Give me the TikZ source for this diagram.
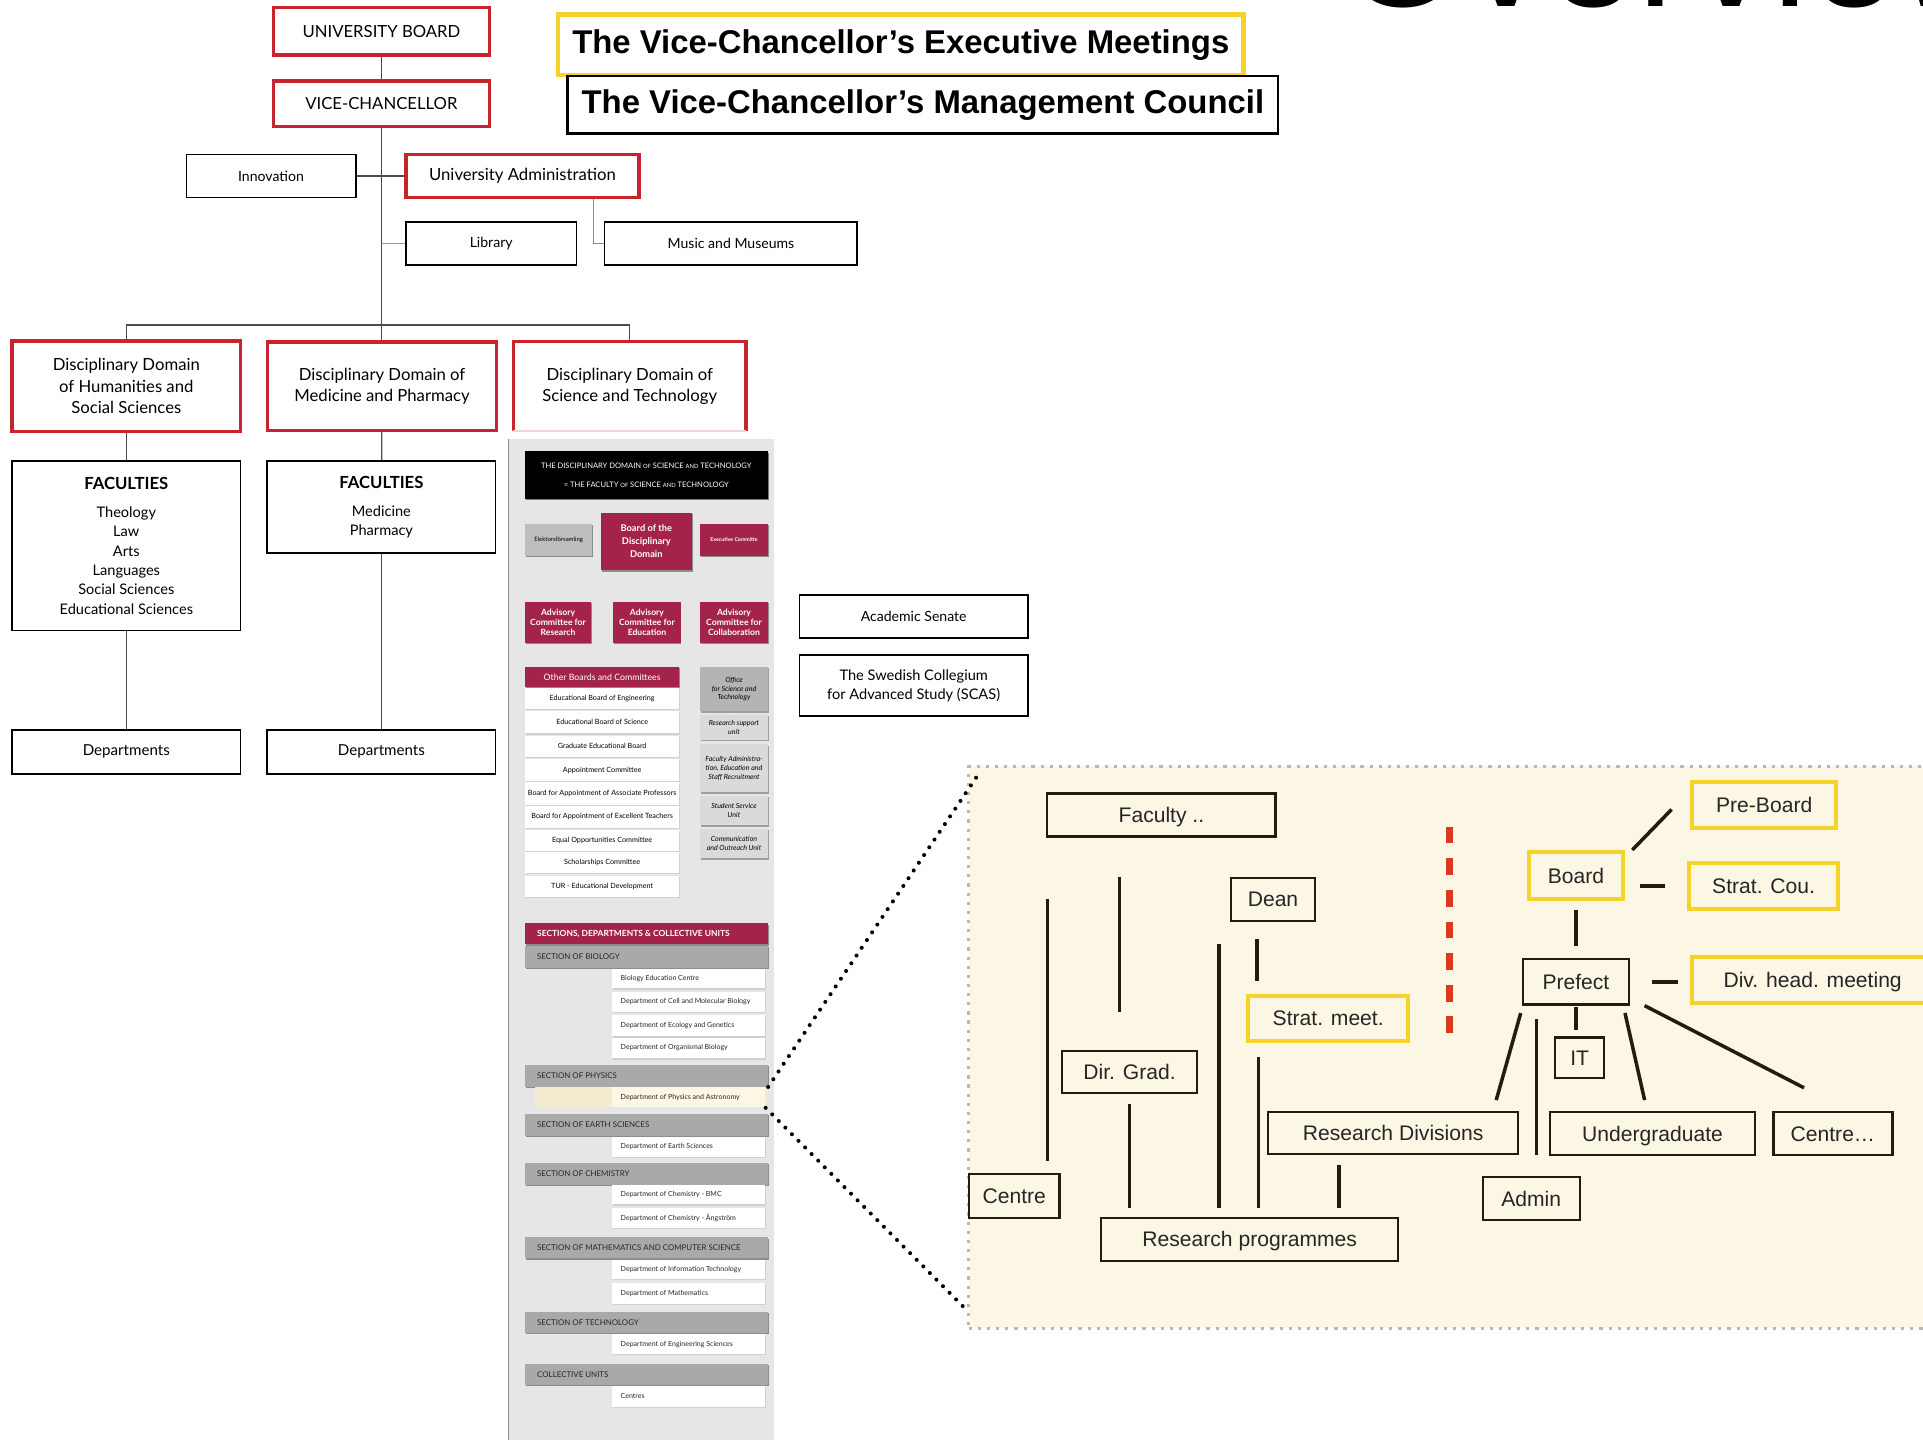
\documentclass[tikz,border=0pt]{standalone}
\usepackage{fontspec}
\setmainfont{Lato}
\newfontfamily\helv{Liberation Sans}
\usepackage{tikz}
\usetikzlibrary{shadows}
\definecolor{uured}{HTML}{C8232F}
\definecolor{uucrimson}{HTML}{A3234A}
\definecolor{panelgray}{HTML}{E6E6E6}
\definecolor{secgray}{HTML}{A9A9A9}
\definecolor{unitgray}{HTML}{DADADA}
\definecolor{officegray}{HTML}{B4B4B4}
\definecolor{elekgray}{HTML}{BDBDBD}
\definecolor{zoombeige}{HTML}{FCF6E4}
\definecolor{hlyellow}{HTML}{F6D32B}
\definecolor{dashred}{HTML}{DA3A1F}
\definecolor{physhl}{HTML}{F3EBCF}
\definecolor{zink}{HTML}{221C10}
\tikzset{
  corners/.style args = {#1/#2/#3/#4}{at={({(#1+#3)/2},{(#2+#4)/2})}, anchor=center,
                      minimum width={(#3-#1)*0.24528mm}, minimum height={(#4-#2)*0.24528mm},
                      inner sep=0pt},
  orgline/.style   = {draw=black!70, line width=0.7pt},
  redbox/.style    = {draw=uured, line width=2pt, fill=white, align=center,
                      font=\fontsize{9.5}{12.2}\selectfont},
  plainbox/.style  = {draw=black, line width=1pt, fill=white, align=center,
                      font=\fontsize{8}{10.6}\selectfont},
  titlebox/.style  = {fill=white, font=\helv\bfseries\fontsize{18.7}{20}\selectfont},
  softshadow/.style = {drop shadow={shadow xshift=0.45pt, shadow yshift=-0.7pt,
                      fill=black!#1, opacity=0.7}},
  crimbox/.style   = {fill=uucrimson, text=white, align=center, softshadow=60,
                      font=\bfseries\fontsize{4.9}{5.8}\selectfont},
  unitbox/.style   = {fill=unitgray, align=center, softshadow=50,
                      font=\itshape\fontsize{4}{5}\selectfont},
  boardrow/.style  = {fill=white, softshadow=22, font=\fontsize{4.1}{5}\selectfont},
  secbar/.style    = {fill=secgray, softshadow=60},
  secfont/.style   = {font=\fontsize{4.5}{5}\selectfont, text=black!85, inner sep=0pt},
  deptrow/.style   = {fill=white, softshadow=22},
  deptfont/.style  = {font=\fontsize{4}{5}\selectfont, text=black!85, inner sep=0pt},
  zbox/.style      = {draw=zink, line width=1.3pt, text=black!85, text depth=0pt,
                      font=\helv\fontsize{12}{14}\selectfont},
  zyellow/.style   = {zbox, draw=hlyellow, line width=2.3pt},
  zline/.style     = {draw=zink, line width=2pt},
  dotconn/.style   = {draw=black, line width=2.3pt, line cap=round,
                      dash pattern=on 0pt off 5.3pt},
}
\newcommand{\smcap}[1]{{\fontsize{3.3}{4}\selectfont #1}}
\newcommand{\boardline}[4]{%
  \node[boardrow, corners=428/#2/554/#3] (#1) {#4};}
\newcommand{\secbar}[4]{%
  \node[secbar, corners=428/#2/626/#3,
        label={[secfont, anchor=west, xshift=7pt]west:{#4}}] (#1) {};}
\newcommand{\deptline}[4]{%
  \node[deptrow, corners=499/#2/624/#3,
        label={[deptfont, anchor=west, xshift=5pt]west:{#4}}] (#1) {};}

\begin{document}
\begin{tikzpicture}[x=0.024528cm, y=-0.024528cm]
  \useasboundingbox (0,0) rectangle (1568,1174);
  \clip (0,0) rectangle (1568,1174);

  % headline, cut by the top edge
  \node[anchor=base west, inner sep=0pt, font=\helv\fontsize{92}{92}\selectfont]
    (overview) at (1093,5.5) {Overview};

  % university level
  \node[redbox, corners=223/6/399/45] (ub) {UNIVERSITY BOARD};
  \node[redbox, corners=223/66/399/103] (vc) {VICE-CHANCELLOR};
  \node[plainbox, corners=152/126/290/161] (inno) {Innovation};
  \node[redbox, corners=331/126/521/161] (uadm) {University Administration};
  \node[plainbox, corners=331/181/470/216] (lib) {Library};
  \node[plainbox, corners=493/181/699/216] (mm) {Music and Museums};
  \coordinate (mmtap) at (484,0);
  \coordinate (bus) at (0,265);
  \draw[orgline] (ub) -- (vc);
  \draw[orgline] (inno) -- (uadm);
  \draw[orgline, black!40] (lib.west) -- (lib.west -| vc.south);
  \draw[orgline, black!45] (uadm.south -| mmtap) |- (mm.west);

  \node[titlebox, draw=hlyellow, line width=2.6pt, corners=455/12/1014/61] (vcem)
    {The Vice-Chancellor’s Executive Meetings};
  \node[titlebox, draw=black, line width=1.6pt, corners=463/62/1042/109] (vcmc)
    {The Vice-Chancellor’s Management Council};

  % disciplinary domains
  \node[redbox, corners=10/278/196/352] (dhum)
    {Disciplinary Domain\\of Humanities and\\Social Sciences};
  \node[redbox, corners=218/279/405/351] (dmed)
    {Disciplinary Domain of\\Medicine and Pharmacy};
  \node[redbox, draw=none, corners=420/280/607/350] (dsci)
    {Disciplinary Domain of\\Science and Technology};
  \draw[uured, line width=2pt] (dsci.south west) -- (dsci.north west)
    -- (dsci.north east) -- (dsci.south east);
  \draw[uured!20, line width=1pt] (dsci.south west) -- (dsci.south east);
  \draw[orgline] (vc.south) -- (vc.south |- dmed.north);
  \draw[orgline] (dhum.north) -- (dhum.north |- bus) -- (dsci.north |- bus) -- (dsci.north);

  \node[plainbox, corners=10/376/196/514, font=\fontsize{8.3}{11}\selectfont] (fac1)
    {{\bfseries\fontsize{9.5}{11}\selectfont FACULTIES}\\[5pt]
     Theology\\Law\\Arts\\Languages\\Social Sciences\\Educational Sciences};
  \node[plainbox, corners=218/376/404/451, font=\fontsize{8.3}{11}\selectfont] (fac2)
    {{\bfseries\fontsize{9.5}{11}\selectfont FACULTIES}\\[5pt]
     Medicine\\Pharmacy};
  \node[plainbox, corners=10/595/196/631, font=\fontsize{8.6}{10}\selectfont] (dep1) {Departments};
  \node[plainbox, corners=218/595/404/631, font=\fontsize{8.6}{10}\selectfont] (dep2) {Departments};
  \draw[orgline] (dhum) -- (fac1);
  \draw[orgline] (fac1) -- (dep1);
  \draw[orgline] (dmed) -- (fac2);
  \draw[orgline] (fac2) -- (dep2);

  \node[plainbox, corners=652/485/838/520] (asen) {Academic Senate};
  \node[plainbox, corners=652/534/838/584, font=\fontsize{8.3}{10.8}\selectfont] (scas)
    {The Swedish Collegium\\for Advanced Study (SCAS)};

  % science and technology panel
  \node[fill=panelgray, corners=415/358/631/1174] (panel) {};
  \draw[black!45, line width=0.8pt] (panel.north west) -- (panel.south west);
  \node[fill=black, text=white, align=center, softshadow=70, corners=428/368/626/407,
        font=\fontsize{4.3}{10.5}\selectfont] (dsthead)
    {THE DISCIPLINARY DOMAIN \smcap{OF} SCIENCE \smcap{AND} TECHNOLOGY\\
     = THE FACULTY \smcap{OF} SCIENCE \smcap{AND} TECHNOLOGY};
  \node[fill=elekgray, softshadow=60, corners=428/427/483/453,
        font=\fontsize{3.4}{4}\selectfont] (elek) {Elektorsförsamling};
  \node[crimbox, corners=490/418/564/465, font=\bfseries\fontsize{5.3}{7.4}\selectfont] (bdd)
    {Board of the\\Disciplinary\\Domain};
  \node[crimbox, corners=571/427/626/453, font=\bfseries\fontsize{3}{4}\selectfont] (excom)
    {Executive Committe};
  \node[crimbox, corners=428/491/482/524] (acr) {Advisory\\Committee for\\Research};
  \node[crimbox, corners=500/491/555/524] (ace) {Advisory\\Committee for\\Education};
  \node[crimbox, corners=571/491/626/524] (acc) {Advisory\\Committee for\\Collaboration};

  \node[crimbox, corners=428/544/554/560, font=\fontsize{5}{6}\selectfont] (obc)
    {Other Boards and Committees};
  \boardline{ebe}{561}{578}{Educational Board of Engineering}
  \boardline{ebs}{580}{598}{Educational Board of Science}
  \boardline{geb}{600}{617}{Graduate Educational Board}
  \boardline{apc}{619}{637}{Appointment Committee}
  \boardline{baap}{638}{656}{Board for Appointment of Associate Professors}
  \boardline{baet}{657}{675}{Board for Appointment of Excellent Teachers}
  \boardline{eoc}{677}{694}{Equal Opportunities Committee}
  \boardline{shc}{695}{712}{Scholarships Committee}
  \boardline{tur}{714}{731}{TUR - Educational Development}

  \node[unitbox, fill=officegray, corners=571/544/626/580] (ost)
    {Office\\for Science and\\Technology};
  \node[unitbox, corners=571/583/626/603] (rsu) {Research support\\unit};
  \node[unitbox, corners=571/607/626/646] (fae)
    {Faculty Administra-\\tion, Education and\\Staff Recruitment};
  \node[unitbox, corners=571/649/626/673] (ssu) {Student Service\\Unit};
  \node[unitbox, corners=571/676/626/700] (cou) {Communication\\and Outreach Unit};

  \node[crimbox, corners=428/753/626/770,
        label={[secfont, text=white, font=\bfseries\fontsize{4.8}{6}\selectfont,
                anchor=west, xshift=7pt]west:{SECTIONS, DEPARTMENTS \& COLLECTIVE UNITS}}] (sdcu) {};
  \secbar{sbio}{771}{789}{SECTION OF BIOLOGY}
  \deptline{bec}{790}{806}{Biology Education Centre}
  \deptline{dcmb}{809}{825}{Department of Cell and Molecular Biology}
  \deptline{deg}{828}{845}{Department of Ecology and Genetics}
  \deptline{dob}{846}{863}{Department of Organismal Biology}
  \secbar{sphy}{868}{886}{SECTION OF PHYSICS}
  \fill[physhl] (436,886) rectangle (626,903);
  \node[fill=zoombeige, corners=499/886/624/903,
        label={[deptfont, anchor=west, xshift=5pt]west:{Department of Physics and Astronomy}}] (dpa) {};
  \secbar{sear}{908}{926}{SECTION OF EARTH SCIENCES}
  \deptline{des}{927}{943}{Department of Earth Sciences}
  \secbar{schem}{948}{966}{SECTION OF CHEMISTRY}
  \deptline{dbmc}{966}{982}{Department of Chemistry - BMC}
  \deptline{dang}{985}{1001}{Department of Chemistry - Ångström}
  \secbar{smath}{1009}{1026}{SECTION OF MATHEMATICS AND COMPUTER SCIENCE}
  \deptline{dit}{1027}{1043}{Department of Information Technology}
  \deptline{dmat}{1046}{1063}{Department of Mathematics}
  \secbar{stech}{1070}{1087}{SECTION OF TECHNOLOGY}
  \deptline{deng}{1088}{1104}{Department of Engineering Sciences}
  \secbar{scoll}{1112}{1129}{COLLECTIVE UNITS}
  \deptline{dcen}{1130}{1147}{Centres}

  % close-up of the department
  \node[fill=zoombeige, draw=black!28, line width=1.8pt, dash pattern=on 1.8pt off 3.4pt,
        corners=790/625/1590/1083] (zpanel) {};
  \coordinate (zcorner1) at (800,628);
  \coordinate (zcorner2) at (790,1070);
  \draw[dotconn] (sphy.south east) -- (zcorner1);
  \draw[dotconn] (dpa.south east) -- (zcorner2);

  \node[zbox, corners=854/647/1040/682] (zfac) {Faculty ..};
  \node[zbox, corners=1004/716/1072/751] (zdean) {Dean};
  \node[zyellow, corners=1018/812/1148/849] (zsmeet) {Strat. meet.};
  \node[zbox, corners=866/857/976/891] (zdir) {Dir. Grad.};
  \node[zbox, corners=790/957/864/993] (zcentre) {Centre};
  \node[zbox, corners=898/993/1140/1028] (zrp) {Research programmes};
  \node[zbox, corners=1034/907/1238/941] (zrd) {Research Divisions};
  \node[zyellow, corners=1247/695/1323/733] (zboard) {Board};
  \node[zyellow, corners=1380/638/1497/675] (zpre) {Pre-Board};
  \node[zyellow, corners=1377/704/1499/741] (zscou) {Strat. Cou.};
  \node[zbox, corners=1242/782/1328/819] (zpref) {Prefect};
  \node[zyellow, corners=1380/780/1576/818] (zdiv) {Div. head. meeting};
  \node[zbox, corners=1268/846/1308/879] (zit) {IT};
  \node[zbox, corners=1264/907/1431/942] (zug) {Undergraduate};
  \node[zbox, corners=1446/907/1543/942] (zcen) {Centre…};
  \node[zbox, corners=1209/960/1288/995] (zadmin) {Admin};

  \draw[zline, shorten <=4.9pt, shorten >=7pt] (zboard.south) -- (zpref.north);
  \draw[zline, shorten <=9pt, shorten >=12.5pt] (zboard.east |- zscou.west) -- (zscou.west);
  \draw[zline, shorten <=12.5pt, shorten >=7pt] (zpref.east) -- (zpref.east -| zdiv.west);
  \draw[zline, shorten <=0.7pt, shorten >=3.5pt] (zpref.south) -- (zpref.south |- zit.north);

  \coordinate (zla1) at (854,733);   \coordinate (zlb1) at (854,947);
  \coordinate (zla2) at (913,715);   \coordinate (zlb2) at (913,825);
  \coordinate (zla3) at (921,900);   \coordinate (zlb3) at (921,985);
  \coordinate (zla4) at (994,770);   \coordinate (zlb4) at (994,985);
  \coordinate (zla5) at (1026,862);  \coordinate (zlb5) at (1026,985);
  \coordinate (zla6) at (1025,766);  \coordinate (zlb6) at (1025,800);
  \coordinate (zla7) at (1092,950);  \coordinate (zlb7) at (1092,985);
  \coordinate (zla8) at (1331,693);  \coordinate (zlb8) at (1363,660);
  \coordinate (zla9) at (1240,826);  \coordinate (zlb9) at (1220,897);
  \coordinate (zla10) at (1253,831); \coordinate (zlb10) at (1253,942);
  \coordinate (zla11) at (1325,826); \coordinate (zlb11) at (1341,897);
  \coordinate (zla12) at (1341,820); \coordinate (zlb12) at (1471,887);
  \draw[zline] (zla1) -- (zlb1);
  \draw[zline] (zla2) -- (zlb2);
  \draw[zline] (zla3) -- (zlb3);
  \draw[zline] (zla4) -- (zlb4);
  \draw[zline] (zla5) -- (zlb5);
  \draw[zline] (zla6) -- (zlb6);
  \draw[zline] (zla7) -- (zlb7);
  \draw[zline] (zla8) -- (zlb8);
  \draw[zline] (zla9) -- (zlb9);
  \draw[zline] (zla10) -- (zlb10);
  \draw[zline] (zla11) -- (zlb11);
  \draw[zline] (zla12) -- (zlb12);

  \coordinate (rda) at (1182,674);
  \coordinate (rdb) at (1182,843);
  \draw[dashred, line width=4.2pt, dash pattern=on 9.5pt off 8.5pt] (rda) -- (rdb);
\end{tikzpicture}
\end{document}
